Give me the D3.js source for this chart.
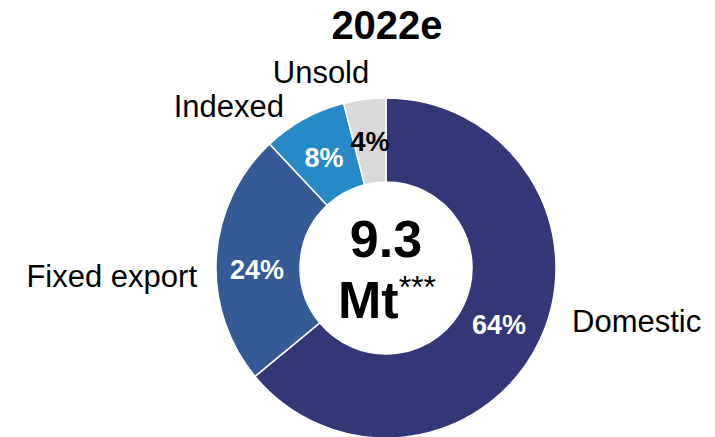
<!DOCTYPE html>
<html>
<head>
<meta charset="utf-8">
<script src="https://cdn.jsdelivr.net/npm/d3@7"></script>
<style>
html,body{margin:0;padding:0;background:#fff;}
svg{display:block;font-family:"Liberation Sans",Arial,sans-serif;}
</style>
</head>
<body>
<svg id="chart" width="715" height="437"></svg>
<script>
const categories = ["Domestic", "Fixed export", "Indexed", "Unsold"];
const values = [64, 24, 8, 4];
const colors = ["#333677", "#355b97", "#278ac6", "#d9d9d9"];
const title = "2022e";
const totalValue = "9.3";
const totalUnit = "Mt";
const totalNote = "***";

const svg = d3.select("#chart");
const cx = 386, cy = 268, outerR = 170, innerR = 86;
const data = categories.map((c, i) => ({ cat: c, value: values[i], color: colors[i] }));

const pie = d3.pie().value(d => d.value).sort(null);
const arcs = pie(data);
const arc = d3.arc().innerRadius(innerR).outerRadius(outerR);

const g = svg.append("g").attr("transform", `translate(${cx},${cy})`);
g.selectAll("path.slice").data(arcs).join("path")
  .attr("class", "slice")
  .attr("d", arc)
  .attr("fill", d => d.data.color)
  .attr("stroke", "#fff")
  .attr("stroke-width", 1.5);

// percentage labels
const pctPos = {
  "Domestic": [113, 66],
  "Fixed export": [-129, 11],
  "Indexed": [-62, -101],
  "Unsold": [-16, -117]
};
g.selectAll("text.pct").data(arcs).join("text")
  .attr("class", "pct")
  .attr("x", d => pctPos[d.data.cat][0])
  .attr("y", d => pctPos[d.data.cat][1])
  .attr("text-anchor", "middle")
  .attr("font-size", 27)
  .attr("font-weight", "bold")
  .attr("fill", d => d.data.cat === "Unsold" ? "#000" : "#fff")
  .text(d => d.data.value + "%");

// category labels
const catPos = {
  "Domestic": [572, 332, "start"],
  "Fixed export": [197, 287, "end"],
  "Indexed": [284, 117, "end"],
  "Unsold": [321, 83, "middle"]
};
svg.selectAll("text.cat").data(data).join("text")
  .attr("class", "cat")
  .attr("x", d => catPos[d.cat][0])
  .attr("y", d => catPos[d.cat][1])
  .attr("text-anchor", d => catPos[d.cat][2])
  .attr("font-size", 31)
  .attr("fill", "#000")
  .text(d => d.cat);

// title
svg.append("text")
  .attr("x", 387).attr("y", 39)
  .attr("text-anchor", "middle")
  .attr("font-size", 40).attr("font-weight", "bold")
  .text(title);

// center total
svg.append("text")
  .attr("x", 386).attr("y", 257)
  .attr("text-anchor", "middle")
  .attr("font-size", 52).attr("font-weight", "bold")
  .text(totalValue);
const t2 = svg.append("text")
  .attr("x", 387).attr("y", 318)
  .attr("text-anchor", "middle");
t2.append("tspan").attr("font-size", 52).attr("font-weight", "bold").text(totalUnit);
t2.append("tspan").attr("font-size", 32).attr("dy", -20).text(totalNote);
</script>
</body>
</html>
